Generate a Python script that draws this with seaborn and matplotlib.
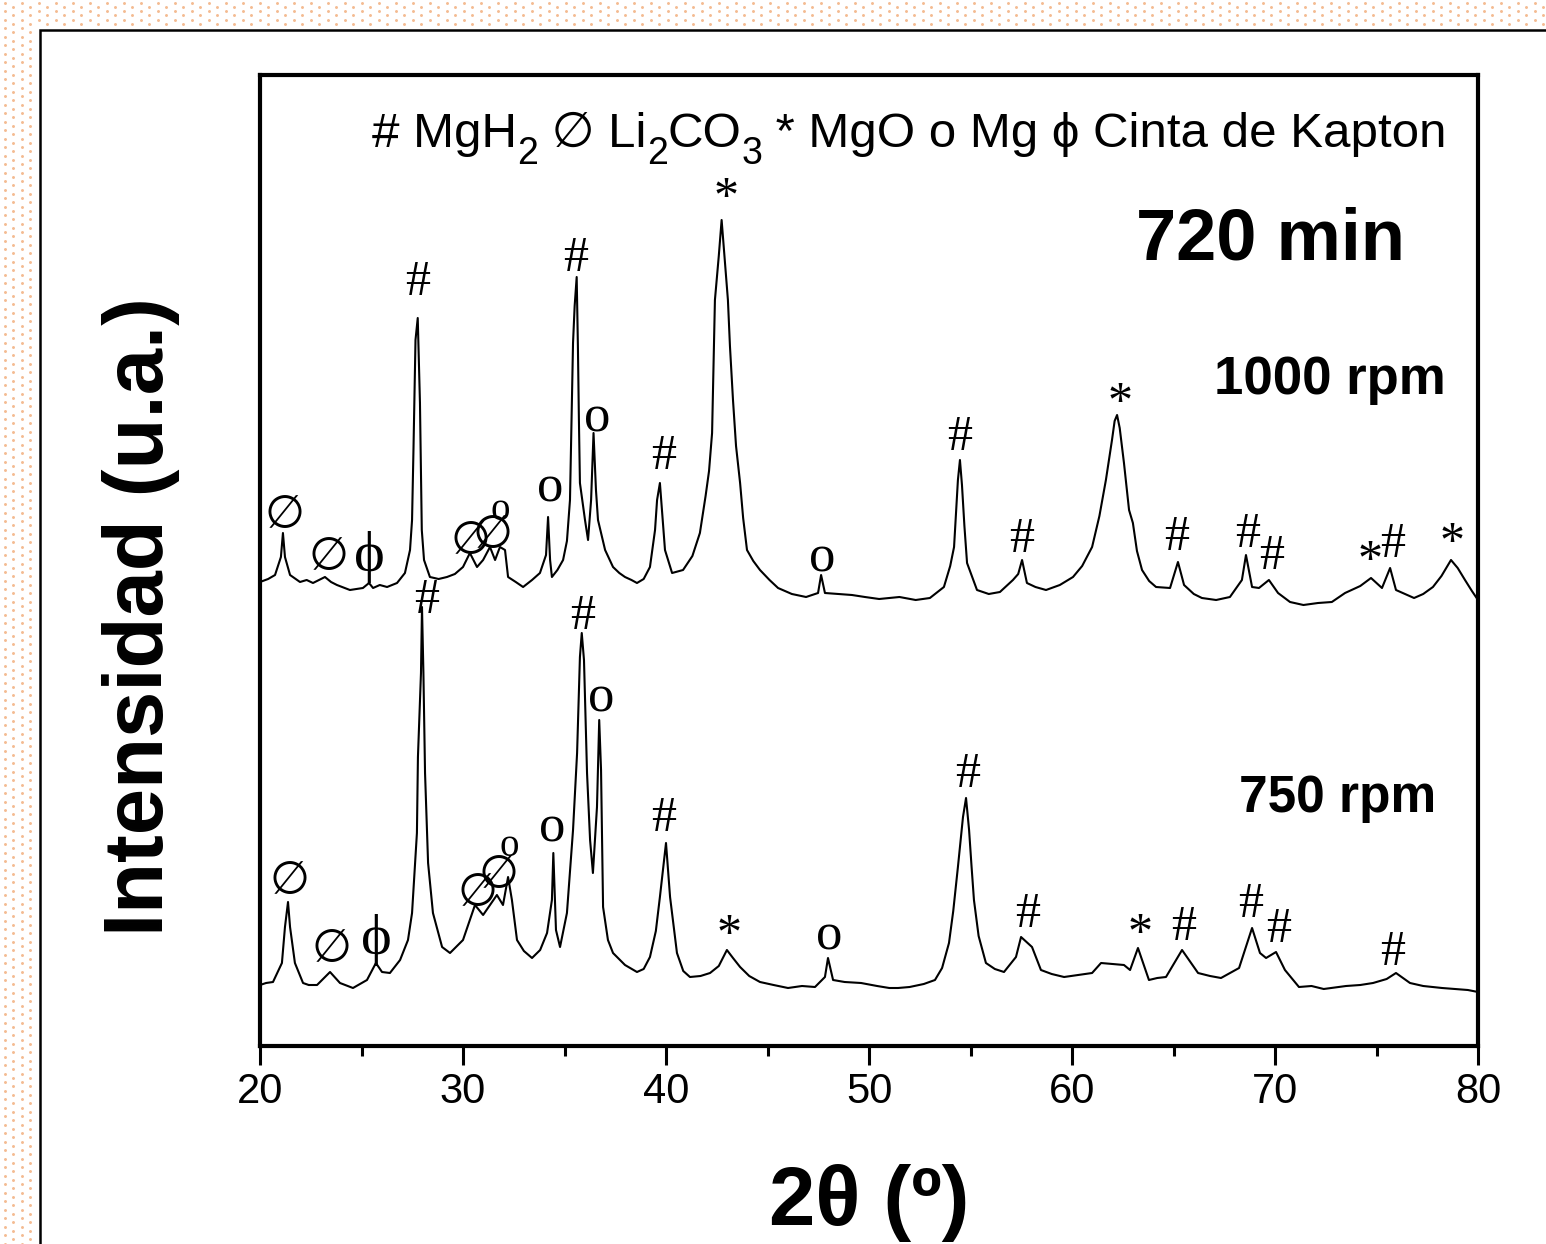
import numpy as np
import pandas as pd
import matplotlib
matplotlib.use("Agg")
import matplotlib.pyplot as plt
from matplotlib.patches import Rectangle
from matplotlib.ticker import MultipleLocator
import seaborn as sns

# ---------------- data ----------------
two_theta_1000 = [20.00, 20.40, 20.74, 21.03, 21.13, 21.23, 21.48, 21.97, 22.30, 22.61, 23.20, 23.50, 23.79,
                  24.43, 25.07, 25.37, 25.57, 25.90, 26.26, 26.75, 27.14, 27.39, 27.49, 27.56, 27.66,
                  27.77, 27.88, 27.97, 28.08, 28.37, 28.80, 29.21, 29.60, 30.00, 30.34, 30.69, 30.99,
                  31.33, 31.58, 31.82, 32.07, 32.22, 32.60, 32.96, 33.40, 33.79, 34.09, 34.19, 34.29,
                  34.38, 34.65, 34.93, 35.12, 35.27, 35.42, 35.50, 35.60, 35.66, 35.71, 35.76, 36.01,
                  36.16, 36.31, 36.43, 36.55, 36.65, 37.00, 37.39, 37.70, 37.98, 38.30, 38.57, 38.90,
                  39.21, 39.46, 39.56, 39.70, 39.80, 39.95, 40.30, 40.84, 41.30, 41.67, 41.95, 42.12,
                  42.27, 42.34, 42.41, 42.60, 42.74, 42.88, 43.05, 43.15, 43.30, 43.45, 43.65, 43.80,
                  43.99, 44.30, 44.63, 45.10, 45.52, 46.20, 46.90, 47.49, 47.64, 47.83, 48.50, 49.16,
                  49.80, 50.50, 50.99, 51.50, 52.30, 53.00, 53.69, 54.00, 54.19, 54.38, 54.48, 54.58,
                  54.70, 54.83, 55.32, 55.90, 56.45, 57.09, 57.35, 57.54, 57.78, 58.20, 58.72, 59.40,
                  60.05, 60.50, 60.99, 61.35, 61.67, 61.97, 62.10, 62.22, 62.35, 62.56, 62.81, 63.00,
                  63.20, 63.45, 63.80, 64.14, 64.83, 65.22, 65.52, 66.00, 66.40, 67.10, 67.78, 68.37,
                  68.57, 68.87, 69.21, 69.70, 70.15, 70.74, 71.40, 72.12, 72.80, 73.45, 74.20, 74.73,
                  75.27, 75.67, 75.96, 76.40, 76.85, 77.30, 77.78, 78.20, 78.67, 79.00, 79.36, 79.70,
                  80.00]
intensity_1000 = [464, 467, 471, 489, 513, 489, 471, 464, 466, 463, 469, 464, 461,
                  456, 458, 463, 458, 461, 459, 463, 473, 496, 526, 596, 706,
                  728, 643, 516, 486, 469, 467, 469, 472, 479, 493, 479, 486,
                  499, 486, 499, 496, 469, 464, 459, 466, 473, 491, 529, 486,
                  469, 476, 486, 505, 546, 703, 740, 769, 700, 626, 563, 526,
                  506, 546, 613, 556, 526, 496, 479, 473, 469, 466, 463, 467,
                  479, 516, 546, 563, 536, 496, 473, 476, 490, 513, 550, 575,
                  613, 680, 746, 790, 826, 790, 746, 700, 646, 600, 563, 528,
                  496, 485, 476, 466, 458, 452, 449, 453, 471, 453, 452, 451,
                  449, 447, 448, 449, 446, 448, 459, 480, 499, 566, 586, 561,
                  520, 483, 456, 452, 454, 466, 472, 486, 463, 459, 456, 461,
                  469, 480, 499, 530, 566, 606, 625, 631, 618, 583, 536, 523,
                  495, 476, 465, 459, 458, 484, 461, 452, 448, 446, 449, 466,
                  491, 459, 458, 466, 453, 444, 441, 443, 444, 453, 460, 468,
                  458, 478, 456, 452, 448, 452, 459, 470, 486, 478, 466, 455,
                  446]

two_theta_750 = [20.00, 20.30, 20.64, 21.08, 21.23, 21.38, 21.48, 21.72, 22.12, 22.40, 22.81, 23.45,
                 23.94, 24.58, 25.27, 25.71, 26.01, 26.40, 26.90, 27.29, 27.49, 27.73, 27.78, 27.93,
                 27.98, 28.05, 28.13, 28.28, 28.52, 28.97, 29.36, 30.00, 30.34, 30.59, 30.99, 31.67,
                 31.97, 32.22, 32.41, 32.66, 33.00, 33.40, 33.80, 34.14, 34.38, 34.45, 34.58, 34.78,
                 35.12, 35.42, 35.62, 35.76, 35.85, 35.96, 36.11, 36.26, 36.40, 36.60, 36.71, 36.80,
                 36.90, 37.14, 37.39, 37.98, 38.57, 38.90, 39.21, 39.50, 39.70, 40.00, 40.20, 40.54,
                 40.85, 41.18, 41.70, 42.17, 42.60, 43.00, 43.30, 43.65, 44.10, 44.63, 45.30, 46.01,
                 46.70, 47.34, 47.83, 47.98, 48.23, 48.80, 49.61, 50.40, 51.00, 51.43, 52.00, 52.70,
                 53.25, 53.60, 53.94, 54.15, 54.38, 54.63, 54.78, 54.93, 55.05, 55.17, 55.40, 55.76,
                 56.20, 56.65, 57.24, 57.49, 58.03, 58.47, 59.00, 59.61, 60.30, 60.99, 61.43, 62.00,
                 62.56, 62.86, 63.25, 63.79, 64.20, 64.63, 65.42, 66.21, 66.80, 67.34, 68.23, 68.87,
                 69.26, 69.56, 70.05, 70.49, 71.18, 71.80, 72.40, 72.76, 73.50, 74.20, 74.83, 75.50,
                 75.96, 76.65, 77.30, 78.23, 78.90, 79.50, 80.00]
intensity_750 = [61, 63, 64, 83, 119, 144, 119, 83, 63, 61, 61, 74,
                 63, 58, 66, 83, 74, 73, 86, 106, 133, 213, 289, 373,
                 439, 373, 273, 183, 133, 99, 93, 106, 126, 141, 131, 151,
                 141, 169, 146, 106, 95, 88, 96, 113, 146, 193, 116, 99,
                 133, 216, 293, 389, 413, 386, 273, 206, 173, 239, 326, 276,
                 139, 106, 93, 81, 74, 77, 89, 115, 149, 203, 149, 93,
                 75, 69, 70, 73, 80, 96, 88, 79, 70, 64, 61, 58,
                 60, 59, 69, 88, 66, 64, 63, 60, 58, 58, 59, 62,
                 66, 78, 103, 135, 179, 229, 248, 216, 180, 146, 110, 83,
                 77, 74, 89, 109, 99, 76, 72, 69, 71, 73, 83, 82,
                 81, 76, 98, 66, 68, 69, 96, 73, 70, 68, 78, 118,
                 93, 88, 94, 76, 59, 60, 57, 58, 60, 61, 63, 67,
                 73, 63, 60, 58, 57, 56, 54]

# phase labels over the peaks
label_theta_1000 = [21.23, 23.35, 25.37, 27.78, 30.38, 31.45, 31.85, 34.29, 35.57, 36.60, 39.90, 42.96,
                    47.68, 54.48, 57.54, 62.36, 65.17, 68.67, 69.85, 74.68, 75.81, 78.72]
label_y_1000 = [531, 489, 489, 763, 505, 510, 532, 554, 787, 624, 589, 854,
                484, 608, 506, 649, 508, 511, 489, 491, 501, 509]
label_sym_1000 = ["empty", "empty", "phi", "hash", "empty", "empty", "mg", "Mg", "hash", "Mg", "hash", "MgO",
                  "Mg", "hash", "hash", "MgO", "hash", "hash", "hash", "MgO", "hash", "MgO"]

label_theta_750 = [21.43, 23.50, 25.71, 28.23, 30.69, 31.77, 32.27, 34.38, 35.91, 36.80, 39.90, 43.10,
                   48.03, 54.88, 57.83, 63.35, 65.52, 68.82, 70.20, 75.81]
label_y_750 = [164, 96, 106, 445, 153, 170, 195, 213, 429, 343, 227, 117,
               106, 271, 131, 118, 118, 141, 116, 93]
label_sym_750 = ["empty", "empty", "phi", "hash", "empty", "empty", "mg", "Mg", "hash", "Mg", "hash", "MgO",
                 "Mg", "hash", "hash", "MgO", "hash", "hash", "hash", "hash"]

# legend line pieces: (text, is_subscript)
legend_pieces = [("# MgH", False), ("2", True), (" \u2205 Li", False), ("2", True), ("CO", False),
                 ("3", True), (" * MgO o Mg \u03d5 Cinta de Kapton", False)]
x_ticks = [20, 30, 40, 50, 60, 70, 80]

# ---------------- styling ----------------
sns.set_style("ticks")
plt.rcParams["font.family"] = ["Liberation Sans", "DejaVu Sans"]
plt.rcParams["text.color"] = "black"
plt.rcParams["axes.labelcolor"] = "black"
plt.rcParams["xtick.color"] = "black"
plt.rcParams["axes.edgecolor"] = "black"

W, H, DPI = 1546, 1244, 100
fig = plt.figure(figsize=(W / DPI, H / DPI), dpi=DPI)
fig.patch.set_facecolor("white")

# decorative dotted page background with a framed white panel
bg = fig.add_axes([0, 0, 1, 1])
bg.set_xlim(0, W)
bg.set_ylim(H, 0)
bg.axis("off")
gx, gy = np.meshgrid(np.arange(0, W + 20, 17.0), np.arange(0, H + 10, 4.25))
row = np.round(gy / 4.25).astype(int)
gx = gx + 4.5 + (row % 2) * 8.5
gy = gy + 2.5
sel = (gx < 37) | (gy < 27)
bg.scatter(gx[sel], gy[sel], s=4.5, color="#f4bb92", linewidths=0)
bg.add_patch(Rectangle((40, 30), 1700, 1400, facecolor="white", edgecolor="black", lw=1.8))

ax = fig.add_axes([260 / W, 1 - 1046 / H, 1218 / W, 971 / H])
ax.set_facecolor("white")

df1000 = pd.DataFrame({"two_theta": two_theta_1000, "intensity": intensity_1000})
df750 = pd.DataFrame({"two_theta": two_theta_750, "intensity": intensity_750})
sns.lineplot(data=df1000, x="two_theta", y="intensity", sort=False, estimator=None,
             color="black", lw=1.5, ax=ax)
sns.lineplot(data=df750, x="two_theta", y="intensity", sort=False, estimator=None,
             color="black", lw=1.5, ax=ax)

sym_style = {
    "hash": ("#", 36),
    "empty": ("\u2205", 33),
    "phi": ("\u03d5", 42),
    "Mg": ("o", 38),
    "mg": ("o", 28),
    "MgO": ("*", 36),
}
serif = ["Liberation Serif", "DejaVu Serif", "DejaVu Sans"]
for th, yy, key in list(zip(label_theta_1000, label_y_1000, label_sym_1000)) + \
        list(zip(label_theta_750, label_y_750, label_sym_750)):
    glyph, size = sym_style[key]
    dy = -7 if key == "MgO" else (4 if key in ("Mg", "mg") else 0)
    fam = ["DejaVu Sans"] if key == "empty" else serif
    ax.text(th, yy + dy, glyph, ha="center", va="center", fontsize=size,
            family=fam, color="black")

ax.set_xlim(20, 80)
ax.set_ylim(0, 971)
ax.set_yticks([])
ax.set_xticks(x_ticks)
ax.xaxis.set_minor_locator(MultipleLocator(5))
ax.tick_params(axis="x", which="major", direction="out", length=14, width=2.2,
               labelsize=30, pad=5, top=False, colors="black")
ax.tick_params(axis="x", which="minor", direction="out", length=7, width=2.2, top=False)
for s in ax.spines.values():
    s.set_linewidth(3)
    s.set_color("black")

ax.set_xlabel("2\u03b8 (\u00ba)", fontsize=60, fontweight="bold")
ax.xaxis.set_label_coords(0.5, -0.122)
ax.set_ylabel("Intensidad (u.a.)", fontsize=60, fontweight="bold")
ax.yaxis.set_label_coords(-0.066, 0.442)

ax.text(0.830, 0.830, "720 min", transform=ax.transAxes, ha="center", va="center",
        fontsize=52, fontweight="bold")
ax.text(0.8785, 0.686, "1000 rpm", transform=ax.transAxes, ha="center", va="center",
        fontsize=38, fontweight="bold")
ax.text(0.885, 0.2554, "750 rpm", transform=ax.transAxes, ha="center", va="center",
        fontsize=37, fontweight="bold")

# legend line built from pieces (subscripts as smaller, lowered text)
renderer = fig.canvas.get_renderer()
main_fs, sub_fs = 35.5, 27
base_y_px = H - 147          # baseline in display pixels (from bottom)
sub_drop = 17
fam = ["Liberation Sans", "DejaVu Sans"]
widths = []
for txt, sub in legend_pieces:
    t = fig.text(0, 0, txt, fontsize=sub_fs if sub else main_fs, family=fam)
    widths.append(t.get_window_extent(renderer).width)
    t.remove()
x_px = 1447 - sum(widths)
for (txt, sub), w in zip(legend_pieces, widths):
    y_px = base_y_px - (sub_drop if sub else 0)
    fig.text(x_px / W, y_px / H, txt, fontsize=sub_fs if sub else main_fs, family=fam,
             ha="left", va="baseline", color="black")
    x_px += w

fig.savefig("out.png", dpi=DPI, facecolor="white")
